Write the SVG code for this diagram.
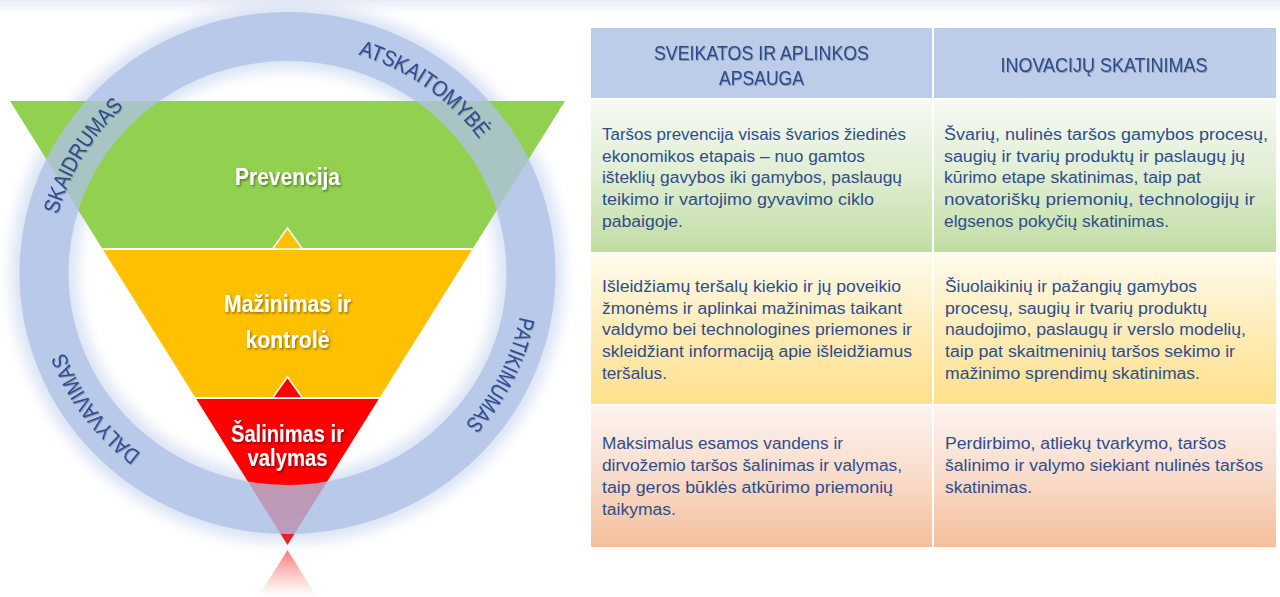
<svg xmlns="http://www.w3.org/2000/svg" width="1280" height="597" viewBox="0 0 1280 597">
<style>
.ringtxt{font-family:"Liberation Sans",Arial,sans-serif;font-size:22px;fill:#2E4C8E;}
.lvl{font-family:"Liberation Sans",Arial,sans-serif;font-size:23px;font-weight:bold;fill:#FFFFFF;text-anchor:middle;}
.hdr{font-family:"Liberation Sans",Arial,sans-serif;font-size:21px;fill:#2E4A8A;text-anchor:middle;}
.body{font-family:"Liberation Sans",Arial,sans-serif;font-size:16px;fill:#2F4D8C;}
</style>
<defs>
<linearGradient id="topband" x1="0" y1="0" x2="0" y2="1">
<stop offset="0" stop-color="#E9ECF5"/><stop offset="1" stop-color="#FFFFFF"/>
</linearGradient>
<linearGradient id="gRow1" x1="0" y1="0" x2="0" y2="1">
<stop offset="0" stop-color="#F6FAF2"/><stop offset="0.5" stop-color="#E0EED3"/><stop offset="1" stop-color="#C1DDA2"/>
</linearGradient>
<linearGradient id="gRow2" x1="0" y1="0" x2="0" y2="1">
<stop offset="0" stop-color="#FFFAEC"/><stop offset="0.5" stop-color="#FEEDB8"/><stop offset="1" stop-color="#FFE08C"/>
</linearGradient>
<linearGradient id="gRow3" x1="0" y1="0" x2="0" y2="1">
<stop offset="0" stop-color="#FDF3F0"/><stop offset="0.5" stop-color="#F9DCCB"/><stop offset="1" stop-color="#F5BF9A"/>
</linearGradient>
<linearGradient id="gRed" x1="0" y1="0" x2="0" y2="1">
<stop offset="0" stop-color="#FF0000"/><stop offset="0.55" stop-color="#FF0000"/><stop offset="1" stop-color="#E02830"/>
</linearGradient>
<linearGradient id="gRefl" x1="0" y1="0" x2="0" y2="1">
<stop offset="0" stop-color="#FF4A4A" stop-opacity="0.75"/><stop offset="1" stop-color="#FF8080" stop-opacity="0"/>
</linearGradient>
<filter id="blur" x="-20%" y="-20%" width="140%" height="140%"><feGaussianBlur stdDeviation="7"/></filter>
<filter id="tshadow" x="-10%" y="-20%" width="120%" height="150%">
<feDropShadow dx="1.2" dy="1.5" stdDeviation="0.8" flood-color="#000000" flood-opacity="0.45"/>
</filter>
<filter id="bshadow" x="-10%" y="-20%" width="120%" height="150%">
<feDropShadow dx="0.8" dy="1" stdDeviation="0.7" flood-color="#000000" flood-opacity="0.25"/>
</filter>
<path id="pA" d="M311.8,45.3 A236.5,229 0 0 1 503.5,179.9"/>
<path id="pS" d="M50,271 A236.5,229 0 0 1 170.3,73.7"/>
<path id="pP" d="M523.4,257 A236.5,229 0 0 1 419.5,462.8"/>
<path id="pD" d="M190.6,482.2 A236.5,229 0 0 1 51.3,296.9"/>
</defs>

<rect x="0" y="0" width="1280" height="597" fill="#FFFFFF"/>
<rect x="0" y="0" width="1280" height="14" fill="url(#topband)"/>

<!-- ring glow -->
<ellipse cx="287.5" cy="273" rx="243.5" ry="236.5" fill="none" stroke="#CED9F0" stroke-width="66" filter="url(#blur)" opacity="0.75"/>

<!-- pyramid levels -->
<g id="level-prevencija">
<polygon points="10,101 565,101 472.5,249 102.5,249" fill="#92D050"/>
<text class="lvl" x="287.5" y="185" textLength="105" lengthAdjust="spacingAndGlyphs" filter="url(#tshadow)">Prevencija</text>
</g>
<g id="level-mazinimas">
<polygon points="102.5,249 472.5,249 379.4,398 195.6,398" fill="#FFC000"/>
<text class="lvl" x="287.5" y="312" textLength="127" lengthAdjust="spacingAndGlyphs" filter="url(#tshadow)">Mažinimas ir</text>
<text class="lvl" x="287.5" y="348" textLength="84" lengthAdjust="spacingAndGlyphs" filter="url(#tshadow)">kontrolė</text>
</g>
<g id="level-salinimas">
<polygon points="195.6,398 379.4,398 287.5,545" fill="url(#gRed)"/>
<text class="lvl" x="287.5" y="442" textLength="113" lengthAdjust="spacingAndGlyphs" filter="url(#tshadow)">Šalinimas ir</text>
<text class="lvl" x="287.5" y="466" textLength="80" lengthAdjust="spacingAndGlyphs" filter="url(#tshadow)">valymas</text>
</g>
<g id="reflection">
<polygon points="287.5,550 258,597 317,597" fill="url(#gRefl)"/>
</g>

<g id="connectors">
<line x1="102.5" y1="249" x2="472.5" y2="249" stroke="#FFFFFF" stroke-width="2"/>
<line x1="195.6" y1="398" x2="379.4" y2="398" stroke="#FFFFFF" stroke-width="2"/>
<polygon points="287.5,228 272.5,249 302.5,249" fill="#FFC000" stroke="#FFFFFF" stroke-width="1.5" stroke-linejoin="miter"/>
<polygon points="287.5,377 272.5,398 302.5,398" fill="#FF0000" stroke="#FFFFFF" stroke-width="1.5" stroke-linejoin="miter"/>
</g>

<!-- ring -->
<g id="ring">
<ellipse cx="287.5" cy="273" rx="243.5" ry="236.5" fill="none" stroke="#AEC2E5" stroke-width="49" opacity="0.78"/>
<g filter="url(#bshadow)">
<text class="ringtxt"><textPath href="#pA" startOffset="50%" text-anchor="middle" textLength="150" lengthAdjust="spacingAndGlyphs">ATSKAITOMYBĖ</textPath></text>
<text class="ringtxt"><textPath href="#pS" startOffset="50%" text-anchor="middle" textLength="128" lengthAdjust="spacingAndGlyphs">SKAIDRUMAS</textPath></text>
<text class="ringtxt"><textPath href="#pP" startOffset="50%" text-anchor="middle" textLength="122" lengthAdjust="spacingAndGlyphs">PATIKIMUMAS</textPath></text>
<text class="ringtxt"><textPath href="#pD" startOffset="50%" text-anchor="middle" textLength="128" lengthAdjust="spacingAndGlyphs">DALYVAVIMAS</textPath></text>
</g>
</g>

<!-- table -->
<g id="header-sveikatos">
<rect x="591" y="28" width="341" height="70" fill="#BDCDE9"/>
<text class="hdr" x="761.5" y="60" textLength="215" lengthAdjust="spacingAndGlyphs" filter="url(#bshadow)">SVEIKATOS IR APLINKOS</text>
<text class="hdr" x="761.5" y="85" textLength="85" lengthAdjust="spacingAndGlyphs" filter="url(#bshadow)">APSAUGA</text>
</g>
<g id="header-inovaciju">
<rect x="934" y="28" width="342" height="70" fill="#BDCDE9"/>
<text class="hdr" x="1104" y="72" textLength="207" lengthAdjust="spacingAndGlyphs" filter="url(#bshadow)">INOVACIJŲ SKATINIMAS</text>
</g>

<g id="cell-1-1">
<rect x="591" y="100" width="341" height="152" fill="url(#gRow1)"/>
<text class="body"><tspan x="602" y="140" textLength="304" lengthAdjust="spacingAndGlyphs">Taršos prevencija visais švarios žiedinės</tspan><tspan x="602" y="161.7" textLength="263" lengthAdjust="spacingAndGlyphs">ekonomikos etapais – nuo gamtos</tspan><tspan x="602" y="183.4" textLength="300" lengthAdjust="spacingAndGlyphs">išteklių gavybos iki gamybos, paslaugų</tspan><tspan x="602" y="205" textLength="272" lengthAdjust="spacingAndGlyphs">teikimo ir vartojimo gyvavimo ciklo</tspan><tspan x="602" y="226.8" textLength="81" lengthAdjust="spacingAndGlyphs">pabaigoje.</tspan></text>
</g>
<g id="cell-1-2">
<rect x="934" y="100" width="342" height="152" fill="url(#gRow1)"/>
<text class="body"><tspan x="944" y="140" textLength="324" lengthAdjust="spacingAndGlyphs">Švarių, nulinės taršos gamybos procesų,</tspan><tspan x="944" y="161.7" textLength="301" lengthAdjust="spacingAndGlyphs">saugių ir tvarių produktų ir paslaugų jų</tspan><tspan x="944" y="183.4" textLength="257" lengthAdjust="spacingAndGlyphs">kūrimo etape skatinimas, taip pat</tspan><tspan x="944" y="205" textLength="311" lengthAdjust="spacingAndGlyphs">novatoriškų priemonių, technologijų ir</tspan><tspan x="944" y="226.8" textLength="225" lengthAdjust="spacingAndGlyphs">elgsenos pokyčių skatinimas.</tspan></text>
</g>

<g id="cell-2-1">
<rect x="591" y="254" width="341" height="150" fill="url(#gRow2)"/>
<text class="body"><tspan x="602" y="292" textLength="299" lengthAdjust="spacingAndGlyphs">Išleidžiamų teršalų kiekio ir jų poveikio</tspan><tspan x="602" y="313.5" textLength="300" lengthAdjust="spacingAndGlyphs">žmonėms ir aplinkai mažinimas taikant</tspan><tspan x="602" y="335.2" textLength="310" lengthAdjust="spacingAndGlyphs">valdymo bei technologines priemones ir</tspan><tspan x="602" y="357" textLength="310" lengthAdjust="spacingAndGlyphs">skleidžiant informaciją apie išleidžiamus</tspan><tspan x="602" y="378.7" textLength="65" lengthAdjust="spacingAndGlyphs">teršalus.</tspan></text>
</g>
<g id="cell-2-2">
<rect x="934" y="254" width="342" height="150" fill="url(#gRow2)"/>
<text class="body"><tspan x="945" y="292" textLength="252" lengthAdjust="spacingAndGlyphs">Šiuolaikinių ir pažangių gamybos</tspan><tspan x="945" y="313.5" textLength="262" lengthAdjust="spacingAndGlyphs">procesų, saugių ir tvarių produktų</tspan><tspan x="945" y="335.2" textLength="301" lengthAdjust="spacingAndGlyphs">naudojimo, paslaugų ir verslo modelių,</tspan><tspan x="945" y="357" textLength="290" lengthAdjust="spacingAndGlyphs">taip pat skaitmeninių taršos sekimo ir</tspan><tspan x="945" y="378.7" textLength="255" lengthAdjust="spacingAndGlyphs">mažinimo sprendimų skatinimas.</tspan></text>
</g>

<g id="cell-3-1">
<rect x="591" y="406" width="341" height="141" fill="url(#gRow3)"/>
<text class="body"><tspan x="602" y="449" textLength="241" lengthAdjust="spacingAndGlyphs">Maksimalus esamos vandens ir</tspan><tspan x="602" y="471" textLength="300" lengthAdjust="spacingAndGlyphs">dirvožemio taršos šalinimas ir valymas,</tspan><tspan x="602" y="492.7" textLength="291" lengthAdjust="spacingAndGlyphs">taip geros būklės atkūrimo priemonių</tspan><tspan x="602" y="514.5" textLength="74" lengthAdjust="spacingAndGlyphs">taikymas.</tspan></text>
</g>
<g id="cell-3-2">
<rect x="934" y="406" width="342" height="141" fill="url(#gRow3)"/>
<text class="body"><tspan x="945" y="449" textLength="281" lengthAdjust="spacingAndGlyphs">Perdirbimo, atliekų tvarkymo, taršos</tspan><tspan x="945" y="471" textLength="318" lengthAdjust="spacingAndGlyphs">šalinimo ir valymo siekiant nulinės taršos</tspan><tspan x="945" y="492.7" textLength="87" lengthAdjust="spacingAndGlyphs">skatinimas.</tspan></text>
</g>
</svg>
